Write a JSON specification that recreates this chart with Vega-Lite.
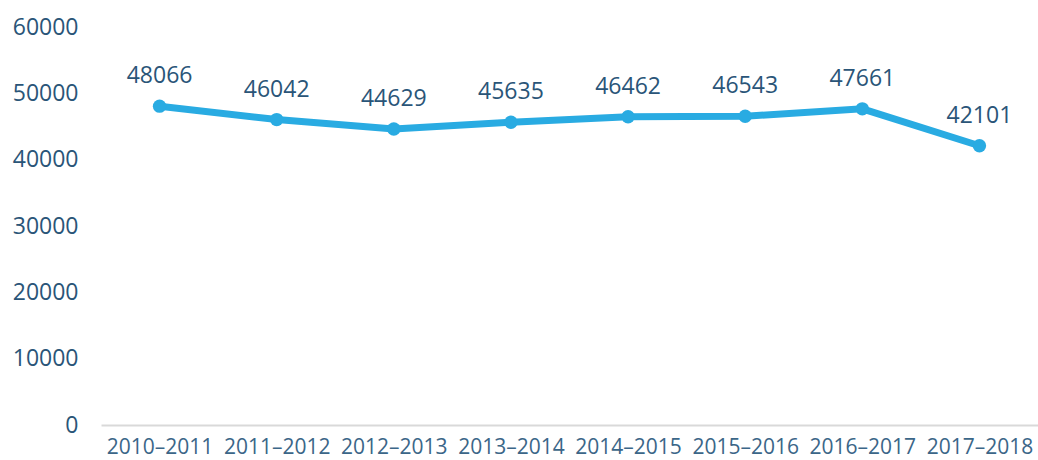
{
  "$schema": "https://vega.github.io/schema/vega-lite/v6.json",
  "width": 937,
  "height": 398,
  "autosize": {"type": "none"},
  "padding": {"left": 101, "top": 27, "right": 0, "bottom": 35},
  "background": "white",
  "config": {
    "view": {"stroke": null},
    "font": "Open Sans"
  },
  "data": {
    "values": [
      {"period": "2010–2011", "value": 48066},
      {"period": "2011–2012", "value": 46042},
      {"period": "2012–2013", "value": 44629},
      {"period": "2013–2014", "value": 45635},
      {"period": "2014–2015", "value": 46462},
      {"period": "2015–2016", "value": 46543},
      {"period": "2016–2017", "value": 47661},
      {"period": "2017–2018", "value": 42101}
    ]
  },
  "encoding": {
    "x": {
      "field": "period",
      "type": "ordinal",
      "sort": null,
      "scale": {"paddingInner": 0, "paddingOuter": 0.5},
      "axis": {
        "title": null,
        "labelAngle": 0,
        "labelFont": "Open Sans",
        "labelFontSize": 21,
        "labelColor": "#3b6688",
        "labelPadding": 11,
        "ticks": false,
        "domainColor": "#d9d9d9",
        "domainWidth": 2,
        "grid": false
      }
    },
    "y": {
      "field": "value",
      "type": "quantitative",
      "scale": {"domain": [0, 60000], "nice": false},
      "axis": {
        "title": null,
        "format": "d",
        "values": [0, 10000, 20000, 30000, 40000, 50000, 60000],
        "labelFont": "Open Sans",
        "labelFontSize": 23,
        "labelColor": "#2a5578",
        "labelPadding": 23,
        "ticks": false,
        "domain": false,
        "grid": false
      }
    }
  },
  "layer": [
    {"mark": {"type": "line", "color": "#29abe2", "strokeWidth": 7}},
    {"mark": {"type": "point", "filled": true, "color": "#29abe2", "size": 180, "opacity": 1}},
    {
      "mark": {"type": "text", "dy": -30, "fontSize": 23, "font": "Open Sans", "color": "#2a5578"},
      "encoding": {"text": {"field": "value", "type": "quantitative", "format": "d"}}
    }
  ]
}
